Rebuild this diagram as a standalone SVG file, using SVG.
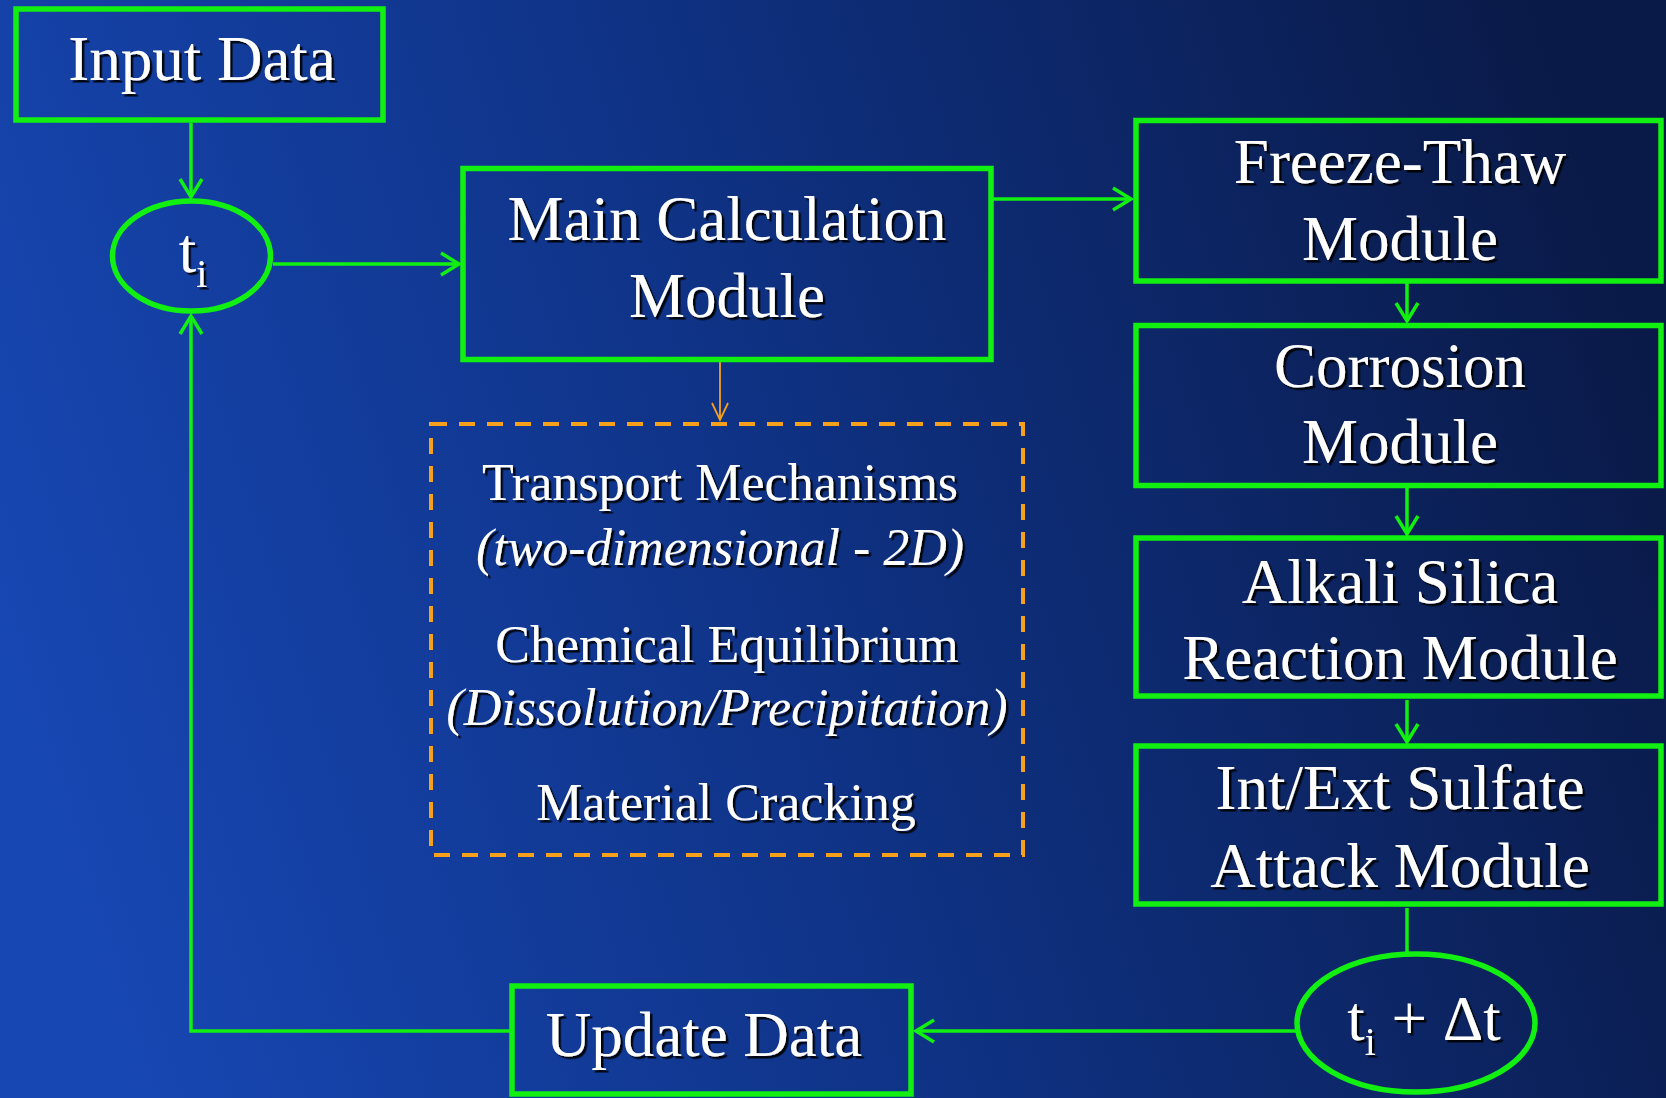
<svg xmlns="http://www.w3.org/2000/svg" width="1666" height="1098" viewBox="0 0 1666 1098">
<defs>
<linearGradient id="bg" x1="0" y1="0.6" x2="1" y2="0.4">
<stop offset="0" stop-color="#1747b3"/>
<stop offset="0.45" stop-color="#0f3387"/>
<stop offset="1" stop-color="#0a1a48"/>
</linearGradient>
<filter id="sh" x="-5%" y="-20%" width="110%" height="140%">
<feDropShadow dx="2.5" dy="2.5" stdDeviation="0.3" flood-color="#000" flood-opacity="0.9"/>
</filter>
<marker id="ga" markerUnits="userSpaceOnUse" markerWidth="26" markerHeight="28" refX="20" refY="13" orient="auto" viewBox="0 0 26 28">
<path d="M2,2 L20,13 L2,24" fill="none" stroke="#12f012" stroke-width="3.5"/>
</marker>
<marker id="oa" markerUnits="userSpaceOnUse" markerWidth="22" markerHeight="22" refX="18" refY="9" orient="auto" viewBox="0 0 22 22">
<path d="M1,1 L18,9 L1,17" fill="none" stroke="#f7a01b" stroke-width="1.8"/>
</marker>
</defs>
<style>
.box{fill:none;stroke:#12f012;stroke-width:5.5}
.con{fill:none;stroke:#12f012;stroke-width:3.5}
.t{font-family:"Liberation Serif","Times New Roman",serif;fill:#fff;text-anchor:middle;filter:url(#sh)}
.big{font-size:63px}
.sm{font-size:52px}
.it{font-style:italic}
</style>
<rect x="0" y="0" width="1666" height="1098" fill="url(#bg)"/>

<g id="connectors">
<line class="con" x1="191" y1="123" x2="191" y2="197" marker-end="url(#ga)"/>
<line class="con" x1="273" y1="264" x2="459" y2="264" marker-end="url(#ga)"/>
<line class="con" x1="992" y1="199" x2="1131" y2="199" marker-end="url(#ga)"/>
<line class="con" x1="1407" y1="283" x2="1407" y2="321" marker-end="url(#ga)"/>
<line class="con" x1="1407" y1="488" x2="1407" y2="534" marker-end="url(#ga)"/>
<line class="con" x1="1407" y1="700" x2="1407" y2="742" marker-end="url(#ga)"/>
<line class="con" x1="1407" y1="908" x2="1407" y2="952"/>
<line class="con" x1="1296" y1="1031" x2="916" y2="1031" marker-end="url(#ga)"/>
<polyline class="con" points="510,1031 191,1031 191,316" marker-end="url(#ga)"/>
<line x1="720" y1="362" x2="720" y2="420" stroke="#f7a01b" stroke-width="1.8" marker-end="url(#oa)"/>
</g>

<g id="input-data">
<rect class="box" x="16" y="9" width="367" height="111"/>
<text class="t big" x="202" y="80">Input Data</text>
</g>

<g id="ti">
<ellipse class="box" cx="191.5" cy="256" rx="79" ry="55"/>
<text class="t big" x="193" y="272">t<tspan font-size="40" dy="15">i</tspan></text>
</g>

<g id="main-calc">
<rect class="box" x="463" y="168.5" width="528" height="191"/>
<text class="t big" x="727" y="240">Main Calculation</text>
<text class="t big" x="727" y="317">Module</text>
</g>

<g id="sub-processes">
<rect x="431" y="424" width="592" height="431" fill="none" stroke="#f7a01b" stroke-width="4" stroke-dasharray="16 12"/>
<text class="t sm" x="720" y="500">Transport Mechanisms</text>
<text class="t sm it" x="720" y="565">(two-dimensional - 2D)</text>
<text class="t sm" x="727" y="662">Chemical Equilibrium</text>
<text class="t sm it" x="727" y="725">(Dissolution/Precipitation)</text>
<text class="t sm" x="726" y="820">Material Cracking</text>
</g>

<g id="freeze-thaw">
<rect class="box" x="1136" y="120.5" width="525" height="160.5"/>
<text class="t big" x="1400" y="183">Freeze-Thaw</text>
<text class="t big" x="1400" y="260">Module</text>
</g>

<g id="corrosion">
<rect class="box" x="1136" y="325.5" width="525" height="160"/>
<text class="t big" x="1400" y="387">Corrosion</text>
<text class="t big" x="1400" y="463">Module</text>
</g>

<g id="asr">
<rect class="box" x="1136" y="538" width="525" height="158"/>
<text class="t big" x="1400" y="603">Alkali Silica</text>
<text class="t big" x="1400" y="679">Reaction Module</text>
</g>

<g id="sulfate">
<rect class="box" x="1136" y="746" width="525" height="158"/>
<text class="t big" x="1400" y="809">Int/Ext Sulfate</text>
<text class="t big" x="1400" y="887">Attack Module</text>
</g>

<g id="ti-dt">
<ellipse class="box" cx="1416" cy="1023" rx="119" ry="69"/>
<text class="t big" x="1424" y="1040">t<tspan font-size="40" dy="15">i</tspan><tspan dy="-15"> + Δt</tspan></text>
</g>

<g id="update-data">
<rect class="box" x="512" y="986" width="399" height="108"/>
<text class="t big" x="704" y="1056">Update Data</text>
</g>
</svg>
